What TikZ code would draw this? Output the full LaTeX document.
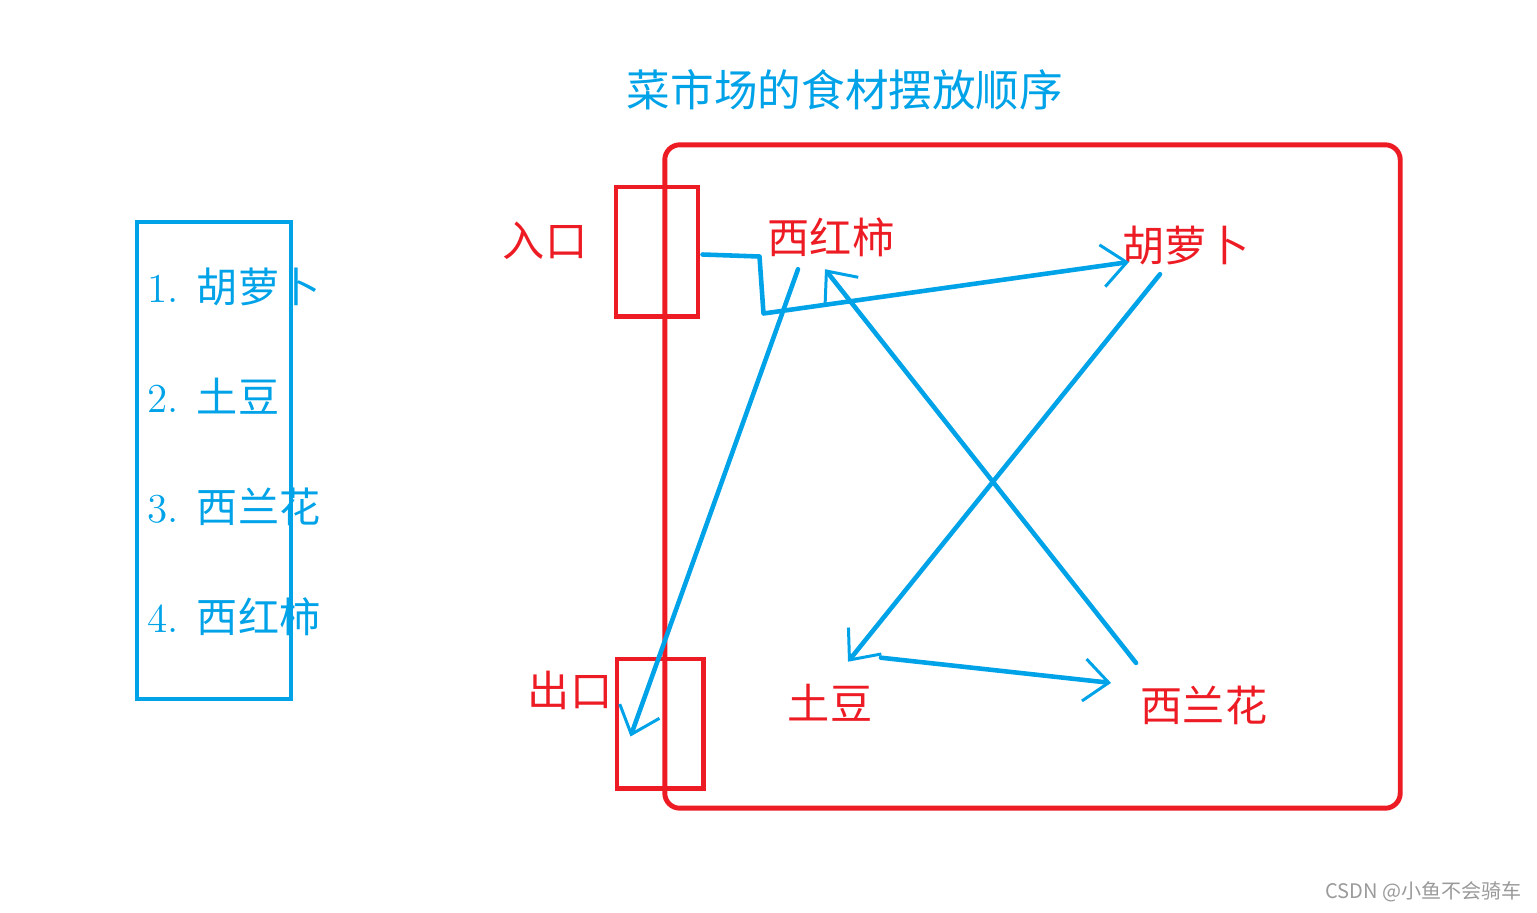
\documentclass[tikz,border=0pt]{standalone}
\usepackage{fontspec}
\newfontfamily\cjk{Noto Sans CJK SC}
\definecolor{MarketRed}{HTML}{ED1C24}
\definecolor{MarketBlue}{HTML}{00A2E8}
\definecolor{MarkGray}{HTML}{9A9A9A}
\usetikzlibrary{arrows.meta, positioning}

\begin{document}
\begin{tikzpicture}[x=0.01cm, y=-0.01cm,
      redbox/.style={draw=MarketRed, line width=1.4pt, inner sep=0pt},
      spot/.style={text=MarketRed, font=\cjk\fontsize{12}{14}\selectfont, inner sep=0pt},
      item/.style={text=MarketBlue, font=\fontsize{11.7}{14}\selectfont, anchor=base west, inner sep=0pt},
      route/.style={MarketBlue, line width=1.3pt, line cap=round, line join=round,
         -{Straight Barb[length=7pt, width=12pt, line width=0.85pt]}}]
   \useasboundingbox (0,0) rectangle (1537,912);
   % Title
   \node[text=MarketBlue, font=\cjk\fontsize{12.4}{15}\selectfont, inner sep=0pt] (title) at (845,90) {菜市场的食材摆放顺序};
   % Shopping list
   \node[draw=MarketBlue, line width=1.3pt, minimum width=1.54cm, minimum height=4.77cm] (list) at (214,460.5) {};
   \node[item] (one) at (147,302) {1. {\cjk 胡萝卜}};
   \node[item] (two) at (147,412) {2. {\cjk 土豆}};
   \node[item] (three) at (147,522) {3. {\cjk 西兰花}};
   \node[item] (four) at (147,632) {4. {\cjk 西红柿}};
   % Market hall, entrance and exit
   \node[redbox, rounded corners=0.15cm, minimum width=7.35cm, minimum height=6.63cm] (market) at (1032.5,476.5) {};
   \node[redbox, minimum width=0.82cm, minimum height=1.29cm] (entry) at (657,251.5) {};
   \node[redbox, minimum width=0.86cm, minimum height=1.29cm] (exit) at (660,723.5) {};
   \node[spot] (entrylabel) at (545,241) {入口};
   \node[spot] (exitlabel) at (570,690) {出口};
   % Stalls
   \node[spot] (tomato) at (831,237) {西红柿};
   \node[spot] (carrot) at (1186,245) {胡萝卜};
   \node[spot] (potato) at (830,703) {土豆};
   \node[spot] (broccoli) at (1204,705) {西兰花};
   % Walking route
   \draw[route] ([shift={(2,3)}]entry.east) -- ++(57,2) -- ++(4,57) -- ([shift={(7,17)}]carrot.west);
   \draw[route] ([shift={(-26,9)}]carrot.south) -- ([shift={(18,-22)}]potato.north);
   \draw[route] ([shift={(8,-26)}]potato.north east) -- ([shift={(-29,-2)}]broccoli.north west);
   \draw[route] ([shift={(-4,-22)}]broccoli.north west) -- ([shift={(-6,12)}]tomato.south);
   \draw[route] ([shift={(-33,12)}]tomato.south) -- ([shift={(16,13)}]exit.west);
   % Watermark
   \node[text=MarkGray, font=\cjk\fontsize{5.7}{7}\selectfont, anchor=base east, inner sep=0pt] (mark) at (1522,898) {CSDN @小鱼不会骑车};
\end{tikzpicture}
\end{document}
